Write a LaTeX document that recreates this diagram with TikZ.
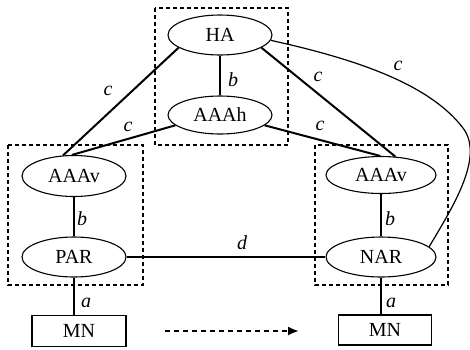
\documentclass[tikz,border=0pt]{standalone}
\usepackage{fontspec}
\setmainfont{Liberation Serif}
\usetikzlibrary{shapes.geometric,arrows.meta}
\begin{document}
\begin{tikzpicture}[x=1pt,y=-1pt,
  oval/.style={draw,ellipse,line width=1.1pt,inner sep=0pt,minimum width=104pt,minimum height=40pt,font=\fontsize{20}{22}\selectfont},
  mnbox/.style={draw,rectangle,line width=1.2pt,inner sep=0pt,minimum width=94pt,minimum height=31pt,font=\fontsize{20}{22}\selectfont},
  groupbox/.style={draw,line width=1.2pt,dash pattern=on 4pt off 3pt},
  thick edge/.style={line width=2pt},
  thin edge/.style={line width=1.2pt},
  lbl/.style={inner sep=0pt,font=\fontsize{20}{22}\selectfont\itshape}]
\useasboundingbox (0,0) rectangle (470,349);
% group boxes
\draw[groupbox] (155,8) rectangle (288,145);
\draw[groupbox] (8,145) rectangle (143,285);
\draw[groupbox] (315,145) rectangle (448,285);
% nodes
\node[oval] (HA) at (220,35) {HA};
\node[oval,minimum height=38pt] (AAAh) at (220,115) {AAAh};
\node[oval,minimum height=41pt] (AAAvL) at (74,176) {AAAv};
\node[oval] (PAR) at (74,257) {PAR};
\node[oval,minimum width=110pt,minimum height=37pt] (AAAvR) at (381,175) {AAAv};
\node[oval,minimum width=110pt] (NAR) at (381,257) {NAR};
\node[mnbox] (MNL) at (79,331) {MN};
\node[mnbox,minimum width=93pt,minimum height=30pt] (MNR) at (385,330) {MN};
% edges
\draw[thin edge] (HA) -- (AAAh);
\draw[thin edge] (AAAvL) -- (PAR);
\draw[thin edge] (AAAvR) -- (NAR);
\draw[thin edge] (PAR.south) -- (PAR.south |- MNL.north);
\draw[thin edge] (NAR.south) -- (NAR.south |- MNR.north);
\draw[thin edge] (PAR) -- (NAR);
\draw[thick edge] (HA.197) -- (AAAvL.118);
\draw[thick edge] (AAAh.193) -- (AAAvL.96);
\draw[thick edge] (HA.343) -- (AAAvR.52);
\draw[thick edge] (AAAh.347) -- (AAAvR.92);
\draw[thin edge] (HA.354) .. controls (360,60) and (430,85) .. (463,128)
  .. controls (485,157) and (452,208) .. (NAR.12);
% dashed arrow
\coordinate (arrS) at (165,331);
\coordinate (arrE) at (299,331);
\draw[line width=2pt,dash pattern=on 5pt off 4pt,-{Latex[length=11pt,width=9pt]}] (arrS) -- (arrE);
% labels
\node[lbl] (lb1) at (233,80) {b};
\node[lbl] (lc1) at (108,91) {c};
\node[lbl] (lc2) at (128,127) {c};
\node[lbl] (lc3) at (318,77) {c};
\node[lbl] (lc4) at (320,126) {c};
\node[lbl] (lc5) at (398,66) {c};
\node[lbl] (lb2) at (82,219) {b};
\node[lbl] (lb3) at (390,219) {b};
\node[lbl] (la1) at (86,303) {a};
\node[lbl] (la2) at (391,303) {a};
\node[lbl] (ld) at (242,243) {d};
\end{tikzpicture}
\end{document}
